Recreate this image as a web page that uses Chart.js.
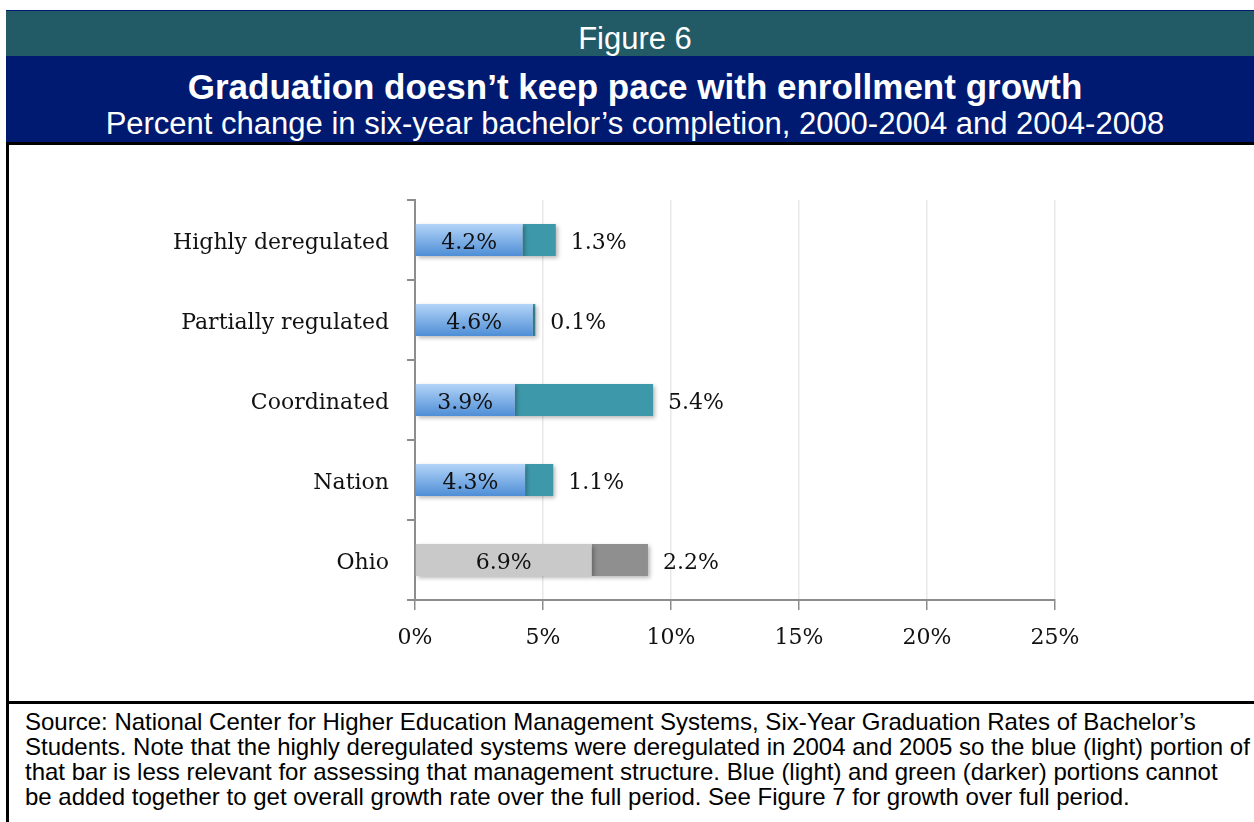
<!DOCTYPE html>
<html>
<head>
<meta charset="utf-8">
<title>Figure 6</title>
<script src="https://cdn.jsdelivr.net/npm/chart.js@4/dist/chart.umd.min.js"></script>
<style>
  html, body { margin: 0; padding: 0; background: #fff; }
  body { width: 1254px; height: 822px; position: relative; overflow: hidden; font-family: "Liberation Sans", Arial, sans-serif; }
  .band { position: absolute; left: 6px; width: 1258px; color: #fff; text-align: center; white-space: nowrap; }
  #figno { top: 10px; height: 46px; background: #225a66; border-top: 1px solid #001a72; box-sizing: border-box; }
  #heading { top: 56px; height: 87px; background: #001a72; }
  .line { position: absolute; left: 0; width: 100%; line-height: 1; }
  #box { position: absolute; left: 6px; top: 142px; width: 1260px; height: 560px; border-left: 3px solid #000; border-top: 3px solid #000; box-sizing: border-box; }
  #foot { position: absolute; left: 6px; top: 701px; width: 1260px; height: 130px; border-left: 3px solid #000; border-top: 3px solid #000; box-sizing: border-box; }
  #note { position: absolute; left: 16px; top: 5px; font-size: 24px; line-height: 25px; color: #000; white-space: nowrap; }
  #chart { position: absolute; left: 9px; top: 145px; }
</style>
</head>
<body>
<div class="band" id="figno"><div class="line" style="top:12px;font-size:31px;">Figure 6</div></div>
<div class="band" id="heading">
  <div class="line" style="top:13px;font-size:35px;font-weight:bold;">Graduation doesn’t keep pace with enrollment growth</div>
  <div class="line" style="top:52px;font-size:31px;">Percent change in six-year bachelor’s completion, 2000-2004 and 2004-2008</div>
</div>
<div id="box"></div>
<div id="foot">
  <div id="note">Source: National Center for Higher Education Management Systems, Six-Year Graduation Rates of Bachelor’s<br>Students. Note that the highly deregulated systems were deregulated in 2004 and 2005 so the blue (light) portion of<br>that bar is less relevant for assessing that management structure. Blue (light) and green (darker) portions cannot<br>be added together to get overall growth rate over the full period. See Figure 7 for growth over full period.</div>
</div>
<canvas id="chart" width="1245" height="555" style="width:1245px;height:555px;"></canvas>
<script>
// categories and percent change in six-year completion
const categories = ['Highly deregulated', 'Partially regulated', 'Coordinated', 'Nation', 'Ohio'];
const change2000to2004 = [4.2, 4.6, 3.9, 4.3, 6.9];
const change2004to2008 = [1.3, 0.1, 5.4, 1.1, 2.2];
const xTicks = [0, 5, 10, 15, 20, 25];

const labelFont = '"DejaVu Serif", "Liberation Serif", serif';
const BAR_HALF = 16;

// Ohio is shown in grey, the system types in blue / teal
function lightFill(ctx) {
  if (categories[ctx.dataIndex] === 'Ohio') return '#c9c9c9';
  const y = ctx.chart.scales.y;
  const c = y ? y.getPixelForValue(ctx.dataIndex) : NaN;
  if (!isFinite(c)) return '#7fb0ea';
  const g = ctx.chart.ctx.createLinearGradient(0, c - BAR_HALF, 0, c + BAR_HALF);
  g.addColorStop(0, '#b3d4f8');
  g.addColorStop(1, '#4e8ed6');
  return g;
}
function darkFill(ctx) {
  return categories[ctx.dataIndex] === 'Ohio' ? '#8f8f8f' : '#3d98aa';
}

const barShadow = {
  id: 'barShadow',
  beforeDatasetsDraw(chart) {
    const c = chart.ctx;
    c.save();
    c.shadowColor = 'rgba(0,0,0,0.28)';
    c.shadowBlur = 4;
    c.shadowOffsetX = 2;
    c.shadowOffsetY = 2;
  },
  afterDatasetsDraw(chart) {
    const c = chart.ctx;
    c.restore();
    // value labels: first period inside its segment, second past the bar end
    const m0 = chart.getDatasetMeta(0).data;
    const m1 = chart.getDatasetMeta(1).data;
    c.save();
    c.font = '22px ' + labelFont;
    c.fillStyle = '#111';
    c.textBaseline = 'middle';
    for (let i = 0; i < categories.length; i++) {
      const a = m0[i], b = m1[i];
      c.textAlign = 'center';
      c.fillText(change2000to2004[i].toFixed(1) + '%', (a.base + a.x) / 2, a.y + 3);
      c.textAlign = 'left';
      c.fillText(change2004to2008[i].toFixed(1) + '%', b.x + 15, b.y + 3);
    }
    c.restore();
  }
};

new Chart(document.getElementById('chart'), {
  type: 'bar',
  data: {
    labels: categories,
    datasets: [
      { label: '2000-2004', data: change2000to2004, backgroundColor: lightFill, barPercentage: 0.4, categoryPercentage: 1 },
      { label: '2004-2008', data: change2004to2008, backgroundColor: darkFill, barPercentage: 0.4, categoryPercentage: 1 }
    ]
  },
  options: {
    indexAxis: 'y',
    responsive: false,
    animation: false,
    layout: { padding: { top: 55, right: 199, left: 0, bottom: 0 } },
    plugins: { legend: { display: false }, tooltip: { enabled: false } },
    scales: {
      x: {
        stacked: true,
        min: 0,
        max: 25,
        afterBuildTicks(scale) { scale.ticks = xTicks.map(v => ({ value: v })); },
        afterFit(scale) { scale.height = 100; },
        grid: { color: '#e8e8e8', lineWidth: 1.5, tickColor: '#8c8c8c', tickLength: 10 },
        border: { color: '#8c8c8c', width: 2 },
        ticks: {
          padding: 15,
          color: '#111',
          font: { family: labelFont, size: 22 },
          callback: v => v + '%'
        }
      },
      y: {
        stacked: true,
        afterFit(scale) { scale.width = 406; },
        grid: { drawOnChartArea: false, color: '#8c8c8c', lineWidth: 2, tickLength: 8, offset: true },
        border: { color: '#8c8c8c', width: 2 },
        ticks: {
          padding: 18,
          labelOffset: 3,
          color: '#111',
          font: { family: labelFont, size: 22 }
        }
      }
    }
  },
  plugins: [barShadow]
});
</script>
</body>
</html>
